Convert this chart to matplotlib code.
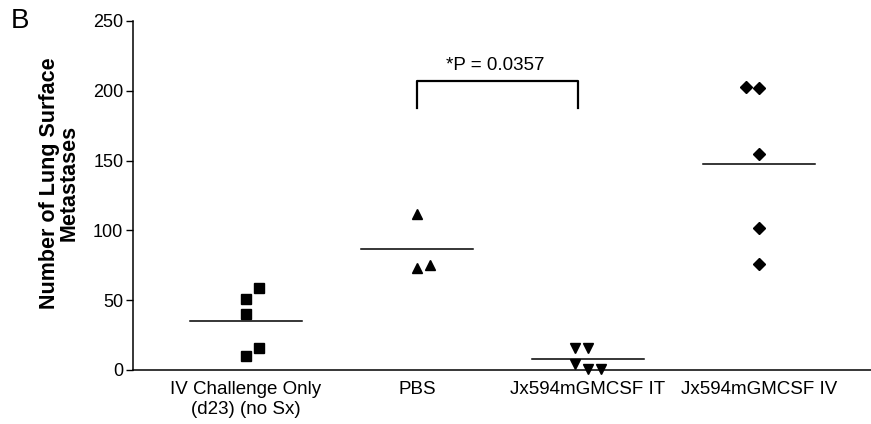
import matplotlib
matplotlib.use("Agg")
import matplotlib.pyplot as plt

plt.rcParams['font.family'] = ['Liberation Sans', 'DejaVu Sans']

# Data (number of lung surface metastases per mouse)
groups = ["IV Challenge Only\n(d23) (no Sx)", "PBS", "Jx594mGMCSF IT", "Jx594mGMCSF IV"]
iv_challenge = [59, 51, 40, 16, 10]
pbs = [112, 73, 75]
jx_it = [16, 16, 4, 1, 1]
jx_iv = [203, 202, 155, 102, 76]
p_label = "*P = 0.0357"

# Small horizontal nudges so overlapping points sit side by side (style)
nudges = [[1, 0, 0, 1, 0], [0, 0, 1], [-1, 0, -1, 0, 1], [-1, 0, 0, 0, 0]]
markers = ['s', '^', 'v', 'D']
sizes = [7, 7.5, 7.5, 6]

fig = plt.figure(figsize=(8.71, 4.24), dpi=100)
ax = fig.add_axes([0.1527, 0.1274, 0.8473, 0.8231])

series = [iv_challenge, pbs, jx_it, jx_iv]
for i, vals in enumerate(series):
    x0 = i + 1
    xs = [x0 + n * 0.077 for n in nudges[i]]
    ax.plot(xs, vals, linestyle='none', marker=markers[i], ms=sizes[i],
            color='black', mec='black', clip_on=False)
    m = sum(vals) / len(vals)
    ax.plot([x0 - 0.33, x0 + 0.33], [m, m], color='black', lw=1.1)

# Significance bracket
ax.plot([2.0, 2.0, 2.94, 2.94], [188, 207, 207, 188], color='black', lw=1.6)
ax.text(2.46, 212, p_label, ha='center', va='bottom', fontsize=13.5)

ax.set_xlim(0.339, 4.655)
ax.set_ylim(0, 250)
ax.set_yticks([0, 50, 100, 150, 200, 250])
ax.set_xticks(range(1, len(groups) + 1))
ax.set_xticklabels(groups, fontsize=13.5)
ax.tick_params(axis='x', length=0, pad=8)
ax.tick_params(axis='y', labelsize=13, length=5, width=1, pad=2)

for s in ['top', 'right']:
    ax.spines[s].set_visible(False)
for s in ['left', 'bottom']:
    ax.spines[s].set_linewidth(1.1)

ax.set_ylabel("Number of Lung Surface\nMetastases", fontsize=15.5, fontweight='bold',
              linespacing=0.95)
ax.yaxis.set_label_coords(-0.072, 0.535)

fig.text(0.023, 0.95, "B", fontsize=20, ha='center', va='center')

fig.savefig("out.png", dpi=100)
